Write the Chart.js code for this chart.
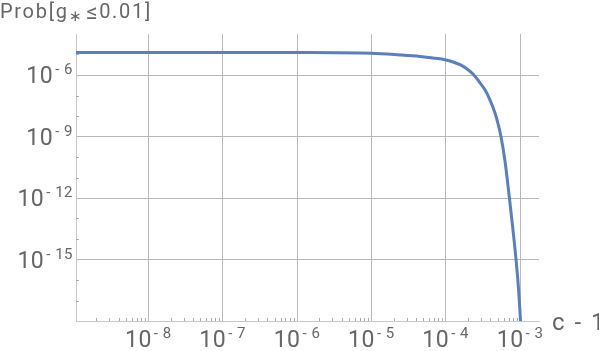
<!DOCTYPE html>
<html>
<head>
<meta charset="utf-8">
<script src="https://cdn.jsdelivr.net/npm/chart.js@4/dist/chart.umd.min.js"></script>
<style>
  html, body { margin: 0; padding: 0; background: #fff; }
  canvas { display: block; }
</style>
</head>
<body>
<canvas id="grafico" width="599" height="351"></canvas>
<script>
// valores (c - 1, Prob)
const cMinusOne = [1.064e-9, 1e-8, 1e-7, 1.1e-6, 1e-5, 2.43e-5, 4.52e-5, 6.76e-5, 1.01e-4, 1.256e-4,
                   1.56e-4, 1.88e-4, 2.33e-4, 2.81e-4, 3.39e-4, 3.95e-4, 4.61e-4, 5.07e-4, 5.56e-4,
                   6.3e-4, 7.2e-4, 8.07e-4, 8.85e-4, 9.55e-4, 1.016e-3];
const probValues = [1.26e-5, 1.26e-5, 1.26e-5, 1.25e-5, 1.15e-5, 9.5e-6, 8.0e-6, 6.75e-6, 5.4e-6, 4.3e-6,
                    3.18e-6, 2.15e-6, 1.12e-6, 4.8e-7, 1.85e-7, 6.0e-8, 1.4e-8, 4.07e-9, 9.5e-10,
                    5.7e-11, 1e-12, 2.45e-14, 9.5e-16, 3.6e-17, 1e-18];
const xTickExps = [-8, -7, -6, -5, -4, -3];
const yTickExps = [-15, -12, -9, -6];
const yMinorExps = [-17, -16, -14, -13, -11, -10, -8, -7, -5];
const xTitle = 'c - 1';

const FONT = 'Roboto, "Liberation Sans", sans-serif';
const TEXT = '#666';

function powLabel(ctx, exp, x, y, align) {
    // "10" grande + expoente menor
    const base = '10', sup = '- ' + Math.abs(exp);
    ctx.letterSpacing = '0.5px';
    ctx.font = '23px ' + FONT;
    const wb = ctx.measureText(base).width;
    ctx.font = '15px ' + FONT;
    const ws = ctx.measureText(sup).width + 2;
    let x0 = align === 'right' ? x - wb - ws : x - (wb + ws) / 2;
    ctx.textAlign = 'left';
    ctx.textBaseline = 'alphabetic';
    ctx.font = '23px ' + FONT;
    ctx.fillText(base, x0, y);
    ctx.font = '15px ' + FONT;
    ctx.fillText(sup, x0 + wb + 2, y - 9);
    ctx.letterSpacing = '0px';
}

const eixosPlugin = {
    id: 'eixos',
    afterDraw(chart) {
        const { ctx, chartArea: a, scales: { x, y } } = chart;
        ctx.save();
        ctx.strokeStyle = '#aaa';
        ctx.lineWidth = 1;
        ctx.beginPath();
        // marcas menores do eixo x
        for (let k = -9; k <= -3; k++) {
            for (let m = 2; m <= 9; m++) {
                const v = m * Math.pow(10, k);
                if (v < x.min || v > x.max) continue;
                const px = Math.round(x.getPixelForValue(v)) + 0.5;
                ctx.moveTo(px, a.bottom);
                ctx.lineTo(px, a.bottom - 3);
            }
        }
        // marcas menores do eixo y
        yMinorExps.forEach(e => {
            const py = Math.round(y.getPixelForValue(Math.pow(10, e))) + 0.5;
            ctx.moveTo(a.left, py);
            ctx.lineTo(a.left + 3, py);
        });
        ctx.stroke();

        ctx.fillStyle = TEXT;
        yTickExps.forEach(e => {
            const py = y.getPixelForValue(Math.pow(10, e));
            powLabel(ctx, e, 73, py + 8, 'right');
        });
        xTickExps.forEach(e => {
            const px = x.getPixelForValue(Math.pow(10, e));
            powLabel(ctx, e, px, a.bottom + 26, 'center');
        });

        // título do eixo x
        ctx.font = '24px ' + FONT;
        ctx.letterSpacing = '2px';
        ctx.textAlign = 'left';
        ctx.fillText(xTitle, 552, a.bottom + 9);

        // título do eixo y: Prob[g∗≤0.01]
        ctx.letterSpacing = '1.7px';
        ctx.font = '20px ' + FONT;
        let tx = 0;
        ctx.fillText('Prob[g', tx, 18);
        tx += ctx.measureText('Prob[g').width;
        ctx.font = '15px ' + FONT;
        ctx.fillText('\u2217', tx, 21);
        tx += ctx.measureText('\u2217').width + 3;
        ctx.font = '22px ' + FONT;
        ctx.fillText('\u2264', tx, 19);
        tx += ctx.measureText('\u2264').width;
        ctx.font = '20px ' + FONT;
        ctx.fillText('0.01]', tx, 18);
        ctx.restore();
    }
};

new Chart(document.getElementById('grafico').getContext('2d'), {
    type: 'line',
    data: {
        datasets: [{
            data: cMinusOne.map((c, i) => ({ x: c, y: probValues[i] })),
            borderColor: '#5b7fba',
            borderWidth: 3,
            pointRadius: 0,
            cubicInterpolationMode: 'monotone',
            fill: false
        }]
    },
    options: {
        responsive: false,
        animation: false,
        devicePixelRatio: 1,
        layout: { padding: { left: 76, right: 60, top: 34, bottom: 30 } },
        plugins: { legend: { display: false }, tooltip: { enabled: false } },
        scales: {
            x: {
                type: 'logarithmic',
                min: 1.064e-9,
                max: 1.8e-3,
                afterBuildTicks: s => { s.ticks = xTickExps.map(e => ({ value: Math.pow(10, e) })); },
                ticks: { display: false },
                grid: { color: '#b8b8b8', drawTicks: false },
                border: { color: '#c8c8c8' }
            },
            y: {
                type: 'logarithmic',
                min: 1e-18,
                max: 1e-4,
                afterBuildTicks: s => { s.ticks = yTickExps.map(e => ({ value: Math.pow(10, e) })); },
                ticks: { display: false },
                grid: { color: '#b8b8b8', drawTicks: false },
                border: { color: '#c8c8c8' }
            }
        }
    },
    plugins: [eixosPlugin]
});
</script>
</body>
</html>
